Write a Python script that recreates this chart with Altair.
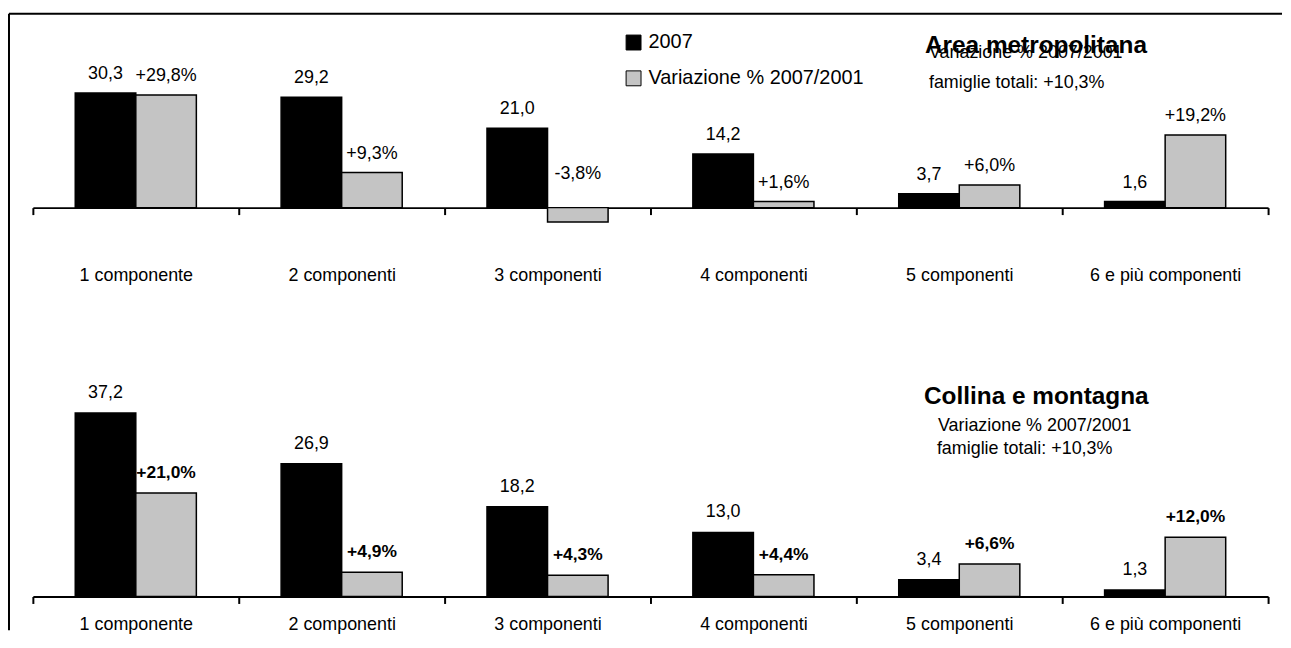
import altair as alt
import pandas as pd

# ---- data -------------------------------------------------------------
categories = ["1 componente", "2 componenti", "3 componenti",
              "4 componenti", "5 componenti", "6 e più componenti"]
series = ["2007", "Variazione % 2007/2001"]

metro_2007 = [30.3, 29.2, 21.0, 14.2, 3.7, 1.6]
metro_var = [29.8, 9.3, -3.8, 1.6, 6.0, 19.2]
coll_2007 = [37.2, 26.9, 18.2, 13.0, 3.4, 1.3]
coll_var = [21.0, 4.9, 4.3, 4.4, 6.6, 12.0]

panel_titles = ["Area metropolitana", "Collina e montagna"]
subtitle = "Variazione % 2007/2001"
total_note = "famiglie totali: +10,3%"

FONT = "Liberation Sans, Arial, Helvetica, sans-serif"
GRAY = "#c4c4c4"


def fmt_val(v):
    return f"{v:.1f}".replace(".", ",")


def fmt_pct(v):
    return f"{v:+.1f}%".replace(".", ",")


def make_df(a, b):
    rows = []
    for c, v in zip(categories, a):
        rows.append(dict(cat=c, series=series[0], value=v, label=fmt_val(v)))
    for c, v in zip(categories, b):
        rows.append(dict(cat=c, series=series[1], value=v, label=fmt_pct(v)))
    df = pd.DataFrame(rows)
    df["labpos"] = df["value"].abs()
    return df


df_top = make_df(metro_2007, metro_var)
df_bot = make_df(coll_2007, coll_var)
one = pd.DataFrame({"k": [0]})

W = 1242


def xenc(offset, pad):
    return alt.X(
        "cat:N", title=None,
        scale=alt.Scale(domain=categories, paddingInner=0, paddingOuter=0),
        axis=alt.Axis(labelAngle=0, labelFont=FONT, labelFontSize=18,
                      labelColor="black", domainColor="black", domainWidth=2,
                      tickColor="black", tickWidth=2, tickSize=7,
                      tickBand="extent", labelPadding=pad, offset=offset,
                      grid=False, labelLimit=300))


xoff = alt.XOffset("series:N",
                   scale=alt.Scale(domain=series, paddingInner=0, paddingOuter=0.7))

legend = alt.Legend(orient="none", legendX=594, legendY=-5, title=None,
                    symbolType="square", symbolSize=225,
                    symbolStrokeColor="black", symbolStrokeWidth=1,
                    symbolOpacity=1, labelFont=FONT, labelFontSize=20,
                    labelColor="black", labelOffset=5, labelLimit=400,
                    rowPadding=16, padding=0)

color = alt.Color("series:N",
                  scale=alt.Scale(domain=series, range=["#000000", GRAY]),
                  legend=legend)


def texts(items):
    layers = []
    for txt, x, y, size, weight in items:
        layers.append(
            alt.Chart(one).mark_text(
                text=txt, align="left", baseline="alphabetic", font=FONT,
                fontSize=size, fontWeight=weight, color="black"
            ).encode(x=alt.value(x), y=alt.value(y)))
    return layers


# ---- top panel ----------------------------------------------------------
ytop = alt.Scale(domain=[-5, 45], nice=False, zero=False)
bars_top = alt.Chart(df_top).mark_bar(stroke="black", strokeWidth=1.5).encode(
    x=xenc(-19, 52), xOffset=xoff,
    y=alt.Y("value:Q", scale=ytop, axis=None),
    color=color)
labels_top = alt.Chart(df_top).mark_text(
    dy=-14, font=FONT, fontSize=18, color="black", baseline="alphabetic"
).encode(x=alt.X("cat:N"), xOffset=alt.XOffset("series:N"),
         y=alt.Y("labpos:Q", axis=None), text="label:N")

frame_top = alt.Chart(one).mark_rule(color="black", strokeWidth=2).encode(
    x=alt.value(-24), x2=alt.value(1256), y=alt.value(-24))
frame_left = alt.Chart(one).mark_rule(color="black", strokeWidth=2).encode(
    x=alt.value(-24), y=alt.value(-24), y2=alt.value(596))

top = alt.layer(
    frame_top, frame_left, bars_top, labels_top,
    *texts([(panel_titles[0], 897, 16, 24.5, "bold"),
            (subtitle, 901, 21, 18, "normal"),
            (total_note, 901, 51, 18, "normal")])
).properties(width=W, height=190)

# ---- bottom panel -------------------------------------------------------
ybot = alt.Scale(domain=[0, 48], nice=False)
bars_bot = alt.Chart(df_bot).mark_bar(stroke="black", strokeWidth=1.5).encode(
    x=xenc(0, 12), xOffset=xoff,
    y=alt.Y("value:Q", scale=ybot, axis=None),
    color=color)
labels_bot_a = alt.Chart(df_bot).transform_filter(
    alt.datum.series == series[0]
).mark_text(dy=-15, font=FONT, fontSize=18, color="black",
            baseline="alphabetic").encode(
    x=alt.X("cat:N"), xOffset=alt.XOffset("series:N"),
    y=alt.Y("labpos:Q", axis=None), text="label:N")
labels_bot_b = alt.Chart(df_bot).transform_filter(
    alt.datum.series == series[1]
).mark_text(dy=-15, font=FONT, fontSize=17.5, fontWeight="bold", color="black",
            baseline="alphabetic").encode(
    x=alt.X("cat:N"), xOffset=alt.XOffset("series:N"),
    y=alt.Y("labpos:Q", axis=None), text="label:N")

bottom = alt.layer(
    bars_bot, labels_bot_a, labels_bot_b,
    *texts([(panel_titles[1], 896, 44, 24.5, "bold"),
            (subtitle, 910, 72, 18, "normal"),
            (total_note, 909, 95, 18, "normal")])
).properties(width=W, height=238)

chart = alt.vconcat(top, bottom, spacing=134, bounds="flush").properties(
    padding={"left": 0, "top": 3, "right": 0, "bottom": 0}
).configure_view(strokeWidth=0)

chart.save("out.html", embed_options={"renderer": "svg", "actions": False})
